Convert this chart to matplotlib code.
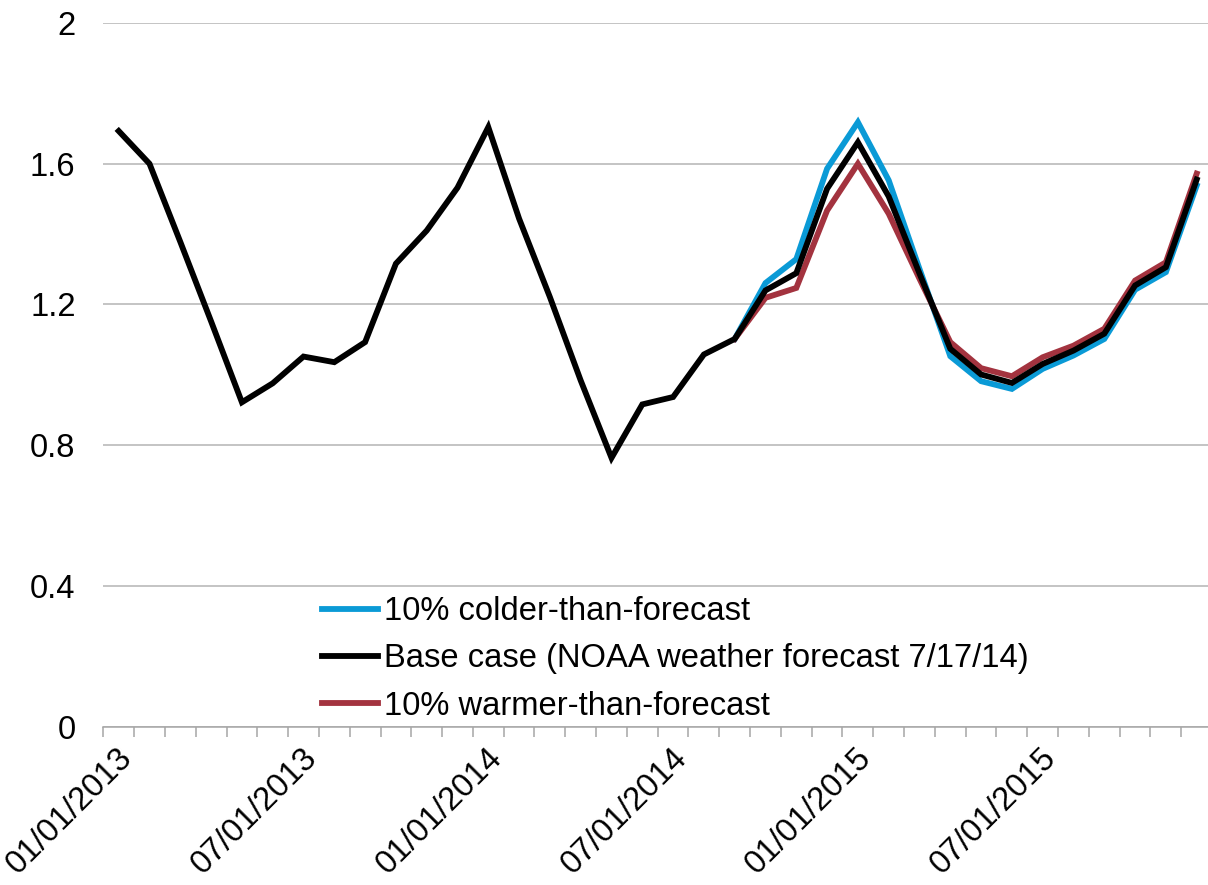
import matplotlib
matplotlib.use("Agg")
import matplotlib.pyplot as plt
import matplotlib.transforms as mtransforms
import numpy as np

plt.rcParams['font.family'] = ['Liberation Sans', 'DejaVu Sans']

# Monthly categories Jan 2013 .. Dec 2015
months = [f"{m:02d}/01/{y}" for y in (2013, 2014, 2015) for m in range(1, 13)]
tick_labels = ["01/01/2013", "07/01/2013", "01/01/2014", "07/01/2014", "01/01/2015", "07/01/2015"]

base = [1.693, 1.600, 1.378, 1.152, 0.922, 0.976, 1.052, 1.036, 1.093, 1.316,
        1.410, 1.532, 1.704, 1.444, 1.221, 0.984, 0.764, 0.916, 0.937, 1.058,
        1.102, 1.240, 1.289, 1.529, 1.661, 1.507, 1.288, 1.074, 1.001, 0.977,
        1.031, 1.069, 1.117, 1.254, 1.306, 1.555]
# scenario series start at Sep 2014 (index 20)
colder = [1.102, 1.261, 1.329, 1.586, 1.718, 1.553, 1.301, 1.053, 0.982, 0.960,
          1.017, 1.055, 1.102, 1.242, 1.292, 1.538]
warmer = [1.102, 1.219, 1.247, 1.467, 1.600, 1.458, 1.273, 1.093, 1.019, 0.996,
          1.050, 1.083, 1.131, 1.268, 1.320, 1.572]
scen_start = 20

series_labels = ["10% colder-than-forecast",
                 "Base case (NOAA weather forecast 7/17/14)",
                 "10% warmer-than-forecast"]
c_blue = "#0A9AD6"
c_black = "#000000"
c_red = "#A3333F"
fs = 23.6

fig = plt.figure(figsize=(12.08, 8.85), dpi=100)
ax = fig.add_axes([103.3 / 1208, (885 - 726.7) / 885, 1108.8 / 1208, 703.7 / 885])

x_all = np.arange(len(base)) + 0.5
x_sc = np.arange(scen_start, scen_start + len(colder)) + 0.5

lw = 4.2
l1, = ax.plot(x_sc, colder, color=c_blue, lw=lw, solid_joinstyle='miter', zorder=3)
l3, = ax.plot(x_sc, warmer, color=c_red, lw=lw, solid_joinstyle='miter', zorder=3)
l2, = ax.plot(x_all, base, color=c_black, lw=lw, solid_joinstyle='miter', zorder=4)

ax.set_xlim(0, len(months))
ax.set_ylim(0, 2)

ax.set_yticks([0, 0.4, 0.8, 1.2, 1.6, 2.0])
ax.set_yticklabels(["0", "0.4", "0.8", "1.2", "1.6", "2"])
ax.tick_params(axis='y', length=0, pad=20, labelsize=fs)
ax.grid(axis='y', color='#B4B4B4', lw=1.1)
ax.set_axisbelow(True)

label_pos = [months.index(t) + 0.5 for t in tick_labels]
ax.set_xticks(label_pos)
ax.set_xticklabels(tick_labels, rotation=45, ha='right', va='center', rotation_mode='anchor')
ax.set_xticks(np.arange(0, len(months) + 1), minor=True)
ax.tick_params(axis='x', which='major', length=0, pad=19, labelsize=fs)
ax.tick_params(axis='x', which='minor', length=7, width=1.1, color='#A6A6A6')
offset = mtransforms.ScaledTranslation(9 / 100, 0, fig.dpi_scale_trans)
for lab in ax.get_xticklabels():
    lab.set_transform(lab.get_transform() + offset)

for s in ['top', 'right', 'left']:
    ax.spines[s].set_visible(False)
ax.spines['bottom'].set_color('#A6A6A6')
ax.spines['bottom'].set_linewidth(1.1)

leg = fig.legend([l1, l2, l3], series_labels, loc='center left',
                 bbox_to_anchor=(322 / 1208, 1 - 659 / 885), bbox_transform=fig.transFigure,
                 frameon=False, fontsize=fs, handlelength=1.72, handletextpad=0.16,
                 labelspacing=0.49, borderpad=0, borderaxespad=0)

fig.savefig("out.png", dpi=100)
